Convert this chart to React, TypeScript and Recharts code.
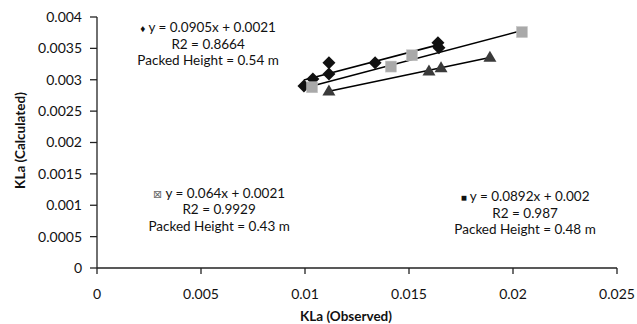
import React from "react";
import { ScatterChart, Scatter, XAxis, YAxis, ReferenceDot } from "recharts";

// ---- data ----
const diamondX = [0.00995, 0.01038, 0.01115, 0.01115, 0.01337, 0.01639, 0.01644];
const diamondY = [0.0029, 0.00301, 0.00327, 0.00309, 0.00327, 0.00359, 0.00351];
const squareX = [0.01034, 0.01413, 0.01514, 0.02043];
const squareY = [0.00288, 0.00321, 0.00339, 0.00376];
const triangleX = [0.01115, 0.01596, 0.01654, 0.01889];
const triangleY = [0.00282, 0.00314, 0.00319, 0.00336];

const xTicks = [0, 0.005, 0.01, 0.015, 0.02, 0.025];
const yTicks = [0, 0.0005, 0.001, 0.0015, 0.002, 0.0025, 0.003, 0.0035, 0.004];

const diamondLabel = ["y = 0.0905x + 0.0021", "R2 = 0.8664", "Packed Height = 0.54 m"];
const triangleLabel = ["y = 0.064x + 0.0021", "R2 = 0.9929", "Packed Height = 0.43 m"];
const squareLabel = ["y = 0.0892x + 0.002", "R2 = 0.987", "Packed Height = 0.48 m"];

const xTitle = "KLa (Observed)";
const yTitle = "KLa (Calculated)";

// ---- helpers ----
const toPts = (xs: number[], ys: number[]) => xs.map((x, i) => ({ x, y: ys[i] }));

function trend(xs: number[], ys: number[]) {
  const n = xs.length;
  const mx = xs.reduce((a, b) => a + b, 0) / n;
  const my = ys.reduce((a, b) => a + b, 0) / n;
  let sxy = 0, sxx = 0;
  for (let i = 0; i < n; i++) {
    sxy += (xs[i] - mx) * (ys[i] - my);
    sxx += (xs[i] - mx) * (xs[i] - mx);
  }
  const m = sxy / sxx;
  const b = my - m * mx;
  const x0 = Math.min(...xs), x1 = Math.max(...xs);
  return [{ x: x0, y: m * x0 + b }, { x: x1, y: m * x1 + b }];
}

const FONT = "Lato, 'Open Sans', sans-serif";
const LINE_GAP = 16.5;
const NOTE_SIZE = 13.5;

const Diamond = (p: any) => {
  const { cx, cy } = p;
  const r = 6.5;
  return <polygon points={`${cx},${cy - r} ${cx + r},${cy} ${cx},${cy + r} ${cx - r},${cy}`} fill="#111" />;
};
const Square = (p: any) => {
  const { cx, cy } = p;
  return <rect x={cx - 5.5} y={cy - 5.5} width={11} height={11} fill="#a9a9a9" stroke="#c4c4c4" strokeWidth={0.5} />;
};
const Triangle = (p: any) => {
  const { cx, cy } = p;
  return <polygon points={`${cx},${cy - 6.5} ${cx + 6.5},${cy + 4.5} ${cx - 6.5},${cy + 4.5}`} fill="#3a3a3a" />;
};
const NoShape = () => <g />;

// (cx, cy) is the centre of the middle line of the three-line note
const makeLabel = (lines: string[], icon: string, iconColor: string) => (p: any) => {
  const { cx, cy } = p;
  const isBox = icon === "\u22A0";
  const base = cy + 5;
  return (
    <g fontFamily={FONT} fontSize={NOTE_SIZE} fill="#111">
      <text x={cx} y={base - LINE_GAP} textAnchor="middle">
        <tspan fill={iconColor} fontSize={isBox ? 11 : 10} fontFamily={isBox ? "DejaVu Sans" : FONT}>{icon}</tspan>
        {" " + lines[0]}
      </text>
      <text x={cx} y={base} textAnchor="middle">{lines[1]}</text>
      <text x={cx} y={base + LINE_GAP} textAnchor="middle">{lines[2]}</text>
    </g>
  );
};

export default function App() {
  const dPts = toPts(diamondX, diamondY);
  const sPts = toPts(squareX, squareY);
  const tPts = toPts(triangleX, triangleY);
  const axisLine = { stroke: "#222", strokeWidth: 1.3 };
  const tickStyle = { fontFamily: FONT, fontSize: 14, fill: "#111" };
  return (
    <div style={{ position: "absolute", left: 0, top: 0, width: 637, height: 324, background: "#fff" }}>
      <ScatterChart width={637} height={324} margin={{ top: 17, right: 20, left: 0, bottom: 0 }}>
        <XAxis
          type="number"
          dataKey="x"
          domain={[0, 0.025]}
          ticks={xTicks}
          tickSize={6}
          tickMargin={15}
          axisLine={axisLine}
          tickLine={{ stroke: "#222", strokeWidth: 1.3 }}
          tick={tickStyle}
          height={56}
          tickFormatter={(v: number) => String(v)}
          label={{ value: xTitle, position: "insideBottom", offset: 3, dx: -11, style: { fontFamily: FONT, fontSize: 13.5, fontWeight: 700, fill: "#111" } }}
          interval={0}
        />
        <YAxis
          type="number"
          dataKey="y"
          domain={[0, 0.004]}
          ticks={yTicks}
          tickSize={7}
          tickMargin={8}
          axisLine={axisLine}
          tickLine={{ stroke: "#222", strokeWidth: 1.3 }}
          tick={tickStyle}
          width={97}
          tickFormatter={(v: number) => String(v)}
          label={{ value: yTitle, angle: -90, position: "insideLeft", offset: 20, dy: -2, style: { fontFamily: FONT, fontSize: 13.5, fontWeight: 700, fill: "#111", textAnchor: "middle" } }}
          interval={0}
        />
        <Scatter data={trend(diamondX, diamondY)} line={{ stroke: "#000", strokeWidth: 1.6 }} shape={NoShape} isAnimationActive={false} legendType="none" />
        <Scatter data={trend(squareX, squareY)} line={{ stroke: "#000", strokeWidth: 1.6 }} shape={NoShape} isAnimationActive={false} legendType="none" />
        <Scatter data={trend(triangleX, triangleY)} line={{ stroke: "#000", strokeWidth: 1.6 }} shape={NoShape} isAnimationActive={false} legendType="none" />
        <Scatter data={dPts} shape={Diamond} isAnimationActive={false} />
        <Scatter data={sPts} shape={Square} isAnimationActive={false} />
        <Scatter data={tPts} shape={Triangle} isAnimationActive={false} />
        <ReferenceDot x={0.00534} y={0.00357} r={0} shape={makeLabel(diamondLabel, "\u2666", "#111")} />
        <ReferenceDot x={0.00587} y={0.00094} r={0} shape={makeLabel(triangleLabel, "\u22A0", "#666")} />
        <ReferenceDot x={0.02058} y={0.00088} r={0} shape={makeLabel(squareLabel, "\u25A0", "#111")} />
      </ScatterChart>
    </div>
  );
}
